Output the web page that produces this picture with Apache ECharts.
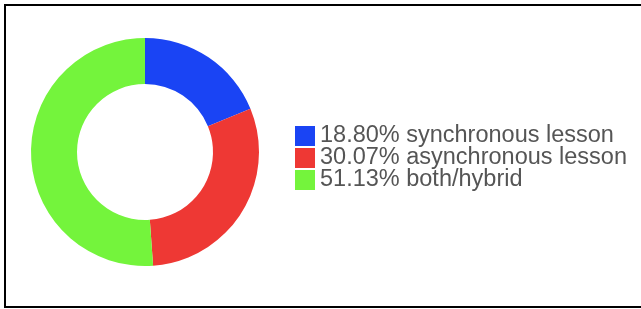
<!DOCTYPE html>
<html>
<head>
<meta charset="utf-8">
<script src="https://cdn.jsdelivr.net/npm/echarts@6/dist/echarts.min.js"></script>
<style>
  html, body { margin: 0; padding: 0; background: #fff; }
  #frame { position: absolute; left: 4px; top: 4px; width: 700px; height: 300px;
           border-left: 2px solid #000; border-top: 2px solid #000; border-bottom: 2px solid #000; }
  #main { position: absolute; left: 0; top: 0; width: 641px; height: 309px; }
</style>
</head>
<body>
<div id="frame"></div>
<div id="main"></div>
<script>
var categories = ['synchronous lesson', 'asynchronous lesson', 'both/hybrid'];
var percents = [18.80, 30.07, 51.13];
var colors = ['#1a44f4', '#ee3834', '#74f43c'];

var pct = {};
categories.forEach(function(c, i){ pct[c] = percents[i].toFixed(2); });

var chart = echarts.init(document.getElementById('main'));
chart.setOption({
    backgroundColor: 'transparent',
    color: colors,
    legend: {
        orient: 'vertical',
        left: 295,
        top: 124,
        padding: 0,
        itemWidth: 20,
        itemHeight: 20,
        itemGap: -2,
        icon: 'rect',
        data: categories,
        formatter: function(name){ return pct[name] + '% ' + name; },
        textStyle: {
            fontFamily: 'Liberation Sans, Arial, sans-serif',
            fontSize: 23.5,
            lineHeight: 22,
            color: '#555'
        },
        selectedMode: false
    },
    series: [{
        type: 'pie',
        center: [145, 152],
        radius: [68, 114],
        startAngle: 90,
        clockwise: true,
        label: { show: false },
        labelLine: { show: false },
        silent: true,
        itemStyle: { borderWidth: 0 },
        data: categories.map(function(c, i){ return { name: c, value: percents[i] }; })
    }],
    animation: false
});
</script>
</body>
</html>
